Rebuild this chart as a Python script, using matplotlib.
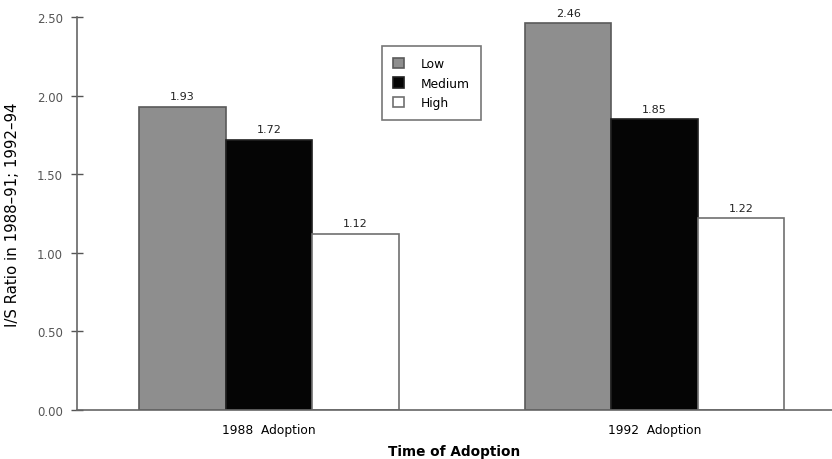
import matplotlib
matplotlib.use("Agg")
import matplotlib.pyplot as plt
import numpy as np

groups = ["1988  Adoption", "1992  Adoption"]
series = ["Low", "Medium", "High"]
low = [1.93, 2.46]
medium = [1.72, 1.85]
high = [1.12, 1.22]
yticks = [0.0, 0.5, 1.0, 1.5, 2.0, 2.5]
ytick_labels = ["0.00", "0.50", "1.00", "1.50", "2.00", "2.50"]

fills = ["#8e8e8e", "#050505", "#ffffff"]
edges = ["#5a5a5a", "#202020", "#707070"]

plt.rcParams["font.family"] = ["DejaVu Sans"]

fig = plt.figure(figsize=(8.32, 4.6), dpi=100)
ax = fig.add_axes([0.0925, 0.1065, 0.9075, 0.8545])

x = np.arange(len(groups))
w = 0.2244
for i, (name, vals) in enumerate(zip(series, [low, medium, high])):
    pos = x + (i - 1) * w
    bars = ax.bar(pos, vals, width=w, color=fills[i], edgecolor=edges[i],
                  linewidth=1.2, label=name, zorder=2)
    for b, v in zip(bars, vals):
        ax.text(b.get_x() + b.get_width() / 2, v + 0.035, f"{v:.2f}",
                ha="center", va="bottom", fontsize=8, color="#222222")

ax.set_xlim(-0.498, 1.46)
ax.set_ylim(0, 2.5)
ax.set_yticks(yticks)
ax.set_yticklabels(ytick_labels, fontsize=8.5, color="#555555")
ax.tick_params(axis="y", direction="inout", length=8, width=1, color="#555555", pad=6)
ax.set_xticks(x)
ax.set_xticklabels(groups, fontsize=8.8)
ax.tick_params(axis="x", length=0, pad=9)

for s in ["top", "right"]:
    ax.spines[s].set_visible(False)
for s in ["left", "bottom"]:
    ax.spines[s].set_color("#666666")
    ax.spines[s].set_linewidth(1.2)

ax.set_ylabel("I/S Ratio in 1988\u201391; 1992\u201394", fontsize=10.8, labelpad=12)
ax.set_xlabel("Time of Adoption", fontsize=9.8, fontweight="bold", labelpad=6)

leg = ax.legend(loc="upper left", bbox_to_anchor=(0.404, 0.926), borderaxespad=0,
                fontsize=8.8, frameon=True, fancybox=False, handlelength=0.9,
                handleheight=0.9, handletextpad=1.4, borderpad=0.9, labelspacing=0.55)
leg.get_frame().set_edgecolor("#555555")
leg.get_frame().set_linewidth(1.2)

fig.savefig("out.png", dpi=100)
